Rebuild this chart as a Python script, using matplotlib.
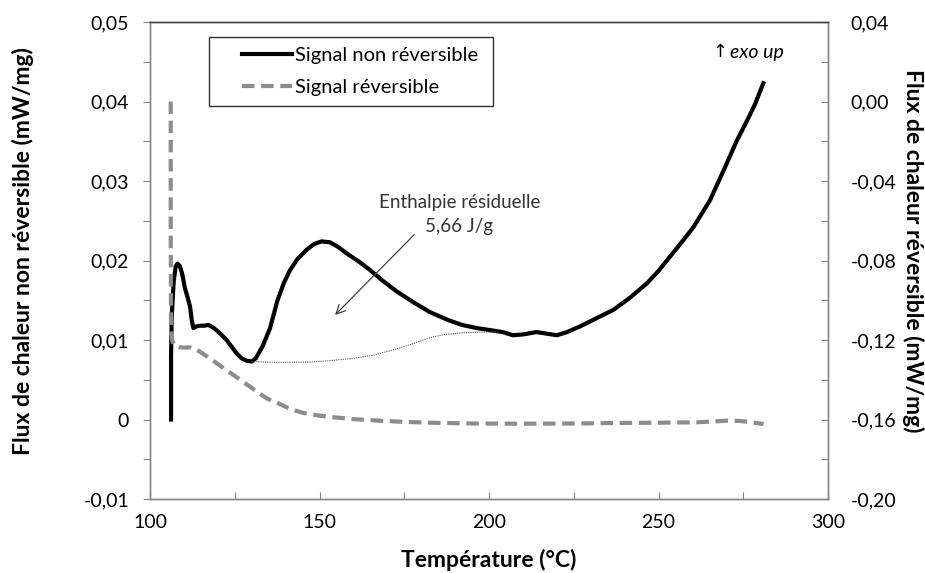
import matplotlib
matplotlib.use("Agg")
import matplotlib.pyplot as plt
import numpy as np
from matplotlib.lines import Line2D
from matplotlib.legend_handler import HandlerLine2D

plt.rcParams['font.family'] = ['Lato', 'DejaVu Sans']

# Signal non reversible (left axis)
nr_temp = [106.2, 106.2, 106.4, 107.0, 107.6, 108.1, 108.8, 109.5, 110.3, 111.0,
           111.8, 112.3, 112.8, 113.6, 114.7, 116.0, 117.2, 118.5, 119.7, 121.2,
           122.6, 124.0, 125.6, 127.0, 128.5, 130.0, 131.2, 133.3, 135.4, 137.6,
           139.5, 141.3, 143.5, 146.3, 148.5, 150.6, 153.0, 155.5, 158.0, 161.5,
           164.9, 168.5, 172.8, 177.5, 182.6, 188.0, 192.0, 196.4, 201.0, 204.0,
           207.0, 210.0, 214.0, 217.0, 220.0, 223.0, 226.8, 231.5, 236.7, 241.5,
           246.5, 250.0, 253.4, 257.0, 260.3, 265.2, 270.1, 273.0, 276.0, 278.5,
           280.9]
nr_flux = [0.0, 0.008, 0.013, 0.0175, 0.0193, 0.0196, 0.0193, 0.0183, 0.0165, 0.0155,
           0.0142, 0.0125, 0.0115, 0.0117, 0.0118, 0.0118, 0.0119, 0.0116, 0.0112, 0.0106,
           0.0100, 0.0092, 0.0083, 0.0077, 0.0074, 0.0073, 0.0077, 0.0093, 0.0115, 0.0150,
           0.0172, 0.0188, 0.0202, 0.0214, 0.0221, 0.0224, 0.0223, 0.0217, 0.0209, 0.0199,
           0.0188, 0.0175, 0.0161, 0.0148, 0.0135, 0.0125, 0.0119, 0.0115, 0.0112, 0.0110,
           0.0106, 0.0107, 0.0110, 0.0108, 0.0106, 0.0110, 0.0117, 0.0127, 0.0138, 0.0153,
           0.0171, 0.0187, 0.0205, 0.0224, 0.0242, 0.0276, 0.0322, 0.0350, 0.0375, 0.0397,
           0.0423]

# Signal reversible (right axis)
rev_temp = [106.1, 106.1, 106.2, 106.5, 107.2, 108.5, 110.0, 111.8, 113.2, 114.7,
            117.0, 119.7, 122.0, 124.6, 127.0, 129.5, 132.0, 134.4, 136.5, 138.3,
            141.5, 145.2, 149.0, 153.1, 160.0, 167.8, 175.0, 182.6, 195.0, 210.0,
            225.0, 240.0, 250.0, 261.3, 266.0, 270.1, 274.0, 277.0, 281.0]
rev_flux = [0.0, -0.06, -0.115, -0.120, -0.1228, -0.1236, -0.1238, -0.1237, -0.1245, -0.1259,
            -0.1285, -0.1317, -0.1345, -0.1376, -0.1405, -0.1435, -0.1466, -0.1493, -0.1510, -0.1522,
            -0.1548, -0.1567, -0.1578, -0.1587, -0.1598, -0.1606, -0.1612, -0.1616, -0.1620, -0.1621,
            -0.1620, -0.1617, -0.1616, -0.1614, -0.1610, -0.1606, -0.1607, -0.1613, -0.1623]

# integration baseline
base_temp = [130.0, 135.0, 140.0, 146.0, 153.0, 160.0, 166.0, 172.8, 178.0, 182.6,
             187.0, 192.0, 197.0, 203.0]
base_flux = [0.0073, 0.0072, 0.0072, 0.0072, 0.0074, 0.0077, 0.0081, 0.0089, 0.0096, 0.0103,
             0.0107, 0.0109, 0.0110, 0.0110]

left_ticks = [-0.01, 0.0, 0.01, 0.02, 0.03, 0.04, 0.05]
left_labels = ['-0,01', '0', '0,01', '0,02', '0,03', '0,04', '0,05']
right_ticks = [-0.20, -0.16, -0.12, -0.08, -0.04, 0.0, 0.04]
right_labels = ['-0,20', '-0,16', '-0,12', '-0,08', '-0,04', '0,00', '0,04']
x_ticks = [100, 150, 200, 250, 300]

AX_COL = '#868686'
TICK_FS = 14
LABEL_FS = 16.5


class ShiftedLine(HandlerLine2D):
    # legend line drawn only on the right part of the handle box
    def create_artists(self, legend, orig_handle, xdescent, ydescent, width,
                       height, fontsize, trans):
        arts = super().create_artists(legend, orig_handle, xdescent, ydescent,
                                      width, height, fontsize, trans)
        for a in arts:
            xd = np.asarray(a.get_xdata(), dtype=float)
            if len(xd) > 1:
                x0, x1 = xd[0], xd[-1]
                a.set_xdata(np.linspace(x0 + 0.32 * (x1 - x0), x1, len(xd)))
        return arts


fig = plt.figure(figsize=(9.25, 5.73), dpi=100)
ax = fig.add_axes([0.1622, 0.1291, 0.7330, 0.8325])
ax2 = ax.twinx()

ax.plot(nr_temp, nr_flux, color='black', lw=3.0, solid_joinstyle='round')
ax.plot(base_temp, base_flux, color='#555555', lw=0.8, ls=(0, (1, 1)))
ax2.plot(rev_temp, rev_flux, color='#8c8c8c', lw=3.0, dashes=(3, 1.6))

ax.set_xlim(100, 300)
ax.set_ylim(-0.01, 0.05)
ax2.set_ylim(-0.20, 0.04)

ax.set_xticks(x_ticks)
ax.set_xticklabels([str(t) for t in x_ticks])
ax.set_xticks([125, 175, 225, 275], minor=True)
ax.set_yticks(left_ticks)
ax.set_yticklabels(left_labels)
ax.set_yticks([-0.005, 0.005, 0.015, 0.025, 0.035, 0.045], minor=True)
ax2.set_yticks(right_ticks)
ax2.set_yticklabels(right_labels)
ax2.set_yticks([-0.18, -0.14, -0.10, -0.06, -0.02, 0.02], minor=True)

ax.tick_params(axis='x', which='both', direction='in', length=5, width=0.8,
               color=AX_COL, labelsize=TICK_FS, pad=11)
ax.tick_params(axis='y', which='both', direction='out', length=5, width=0.8,
               color=AX_COL, labelsize=TICK_FS, pad=10)
ax2.tick_params(axis='y', which='both', direction='in', length=5, width=0.8,
                color=AX_COL, labelsize=TICK_FS, pad=16)

for a in (ax, ax2):
    for s in a.spines.values():
        s.set_color(AX_COL)
        s.set_linewidth(1.0)
    a.spines['top'].set_color('#404040')

ax.set_xlabel('Température (°C)', fontsize=LABEL_FS, fontweight='bold', va='center')
ax.xaxis.set_label_coords(0.5, -0.128)
ax.set_ylabel('Flux de chaleur non réversible (mW/mg)', fontsize=LABEL_FS,
              fontweight='bold', va='center')
ax.yaxis.set_label_coords(-0.187, 0.52)
ax2.set_ylabel('Flux de chaleur réversible (mW/mg)', fontsize=LABEL_FS,
               fontweight='bold', rotation=270, va='center')
ax2.yaxis.set_label_coords(1.125, 0.52)

handles = [Line2D([], [], color='black', lw=3.0),
           Line2D([], [], color='#8c8c8c', lw=3.0, dashes=(3, 1.6))]
leg = ax2.legend(handles, ['Signal non réversible', 'Signal réversible'],
                 loc='upper left', bbox_to_anchor=(0.087, 0.9686),
                 fontsize=14.5, frameon=True, fancybox=False, handlelength=3.6,
                 handletextpad=0.15, labelspacing=0.75, borderpad=0.5,
                 borderaxespad=0.0,
                 handler_map={Line2D: ShiftedLine()})
leg.get_frame().set_edgecolor('black')
leg.get_frame().set_linewidth(1.0)
for t in leg.get_texts():
    t.set_text(t.get_text() + ' ')

ax.annotate('', xy=(154.0, 0.0129), xytext=(178.5, 0.0235),
            arrowprops=dict(arrowstyle='->', color='#404040', lw=0.9,
                            mutation_scale=16))
ax.text(191.2, 0.0258, 'Enthalpie résiduelle\n5,66 J/g', ha='center', va='center',
        fontsize=13.5, color='#333333', linespacing=1.5)

ax.text(265.8, 0.0462, '↑', ha='left', va='center', fontsize=13,
        family=['DejaVu Sans'])
ax.text(271.2, 0.0462, 'exo up', ha='left', va='center', fontsize=14,
        style='italic')

fig.savefig('out.png', dpi=100)
